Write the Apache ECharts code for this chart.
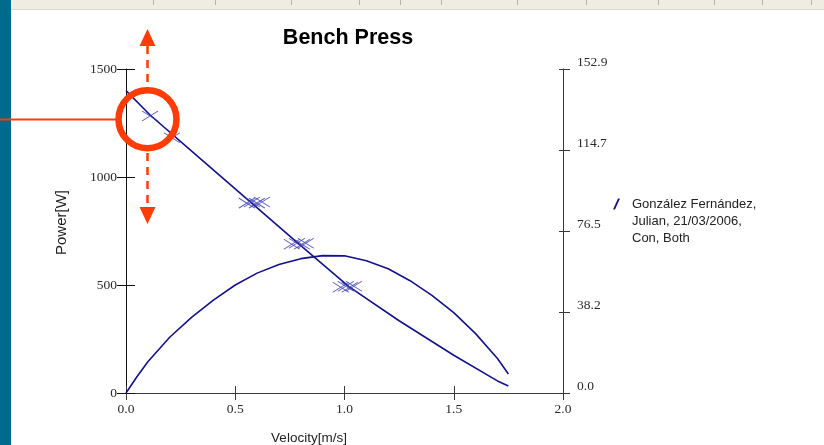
<!DOCTYPE html>
<html>
<head>
<meta charset="utf-8">
<script src="https://cdn.jsdelivr.net/npm/echarts@6/dist/echarts.min.js"></script>
<style>
html,body{margin:0;padding:0;background:#fff;}
#chart{width:824px;height:445px;}
</style>
</head>
<body>
<div id="chart"></div>
<script>
// ---- data ----
const chartTitle = 'Bench Press';
const seriesName = 'González Fernández,\nJulian, 21/03/2006,\nCon, Both';
const xTickLabels = ['0.0', '0.5', '1.0', '1.5', '2.0'];
const leftTickLabels = ['0', '500', '1000', '1500'];
const rightTickLabels = ['0.0', '38.2', '76.5', '114.7', '152.9'];

// power curve (W) vs velocity (m/s) - left axis
const powerVelocity = [0, 0.05, 0.1, 0.2, 0.3, 0.4, 0.5, 0.6, 0.7, 0.8, 0.9, 1.0, 1.1, 1.2, 1.3, 1.4, 1.5, 1.6, 1.7, 1.75];
const powerWatts    = [0, 75, 145, 258, 350, 430, 500, 555, 595, 622, 636, 635, 612, 575, 520, 452, 372, 275, 160, 88];

// force line (kg) vs velocity - right axis
const forceVelocity = [0, 0.11, 0.34, 0.57, 0.8, 1.02, 1.25, 1.5, 1.7, 1.75];
const forceKg       = [142.7, 131.2, 110.6, 90.1, 69.5, 50.2, 34.1, 17.8, 5.7, 3.3];

// measured repetitions (kg) - right axis
const repVelocity = [0.11, 0.21, 0.553, 0.576, 0.599, 0.622, 0.759, 0.782, 0.805, 0.823, 0.983, 1.006, 1.024, 1.043];
const repKg       = [130.7, 120.5, 89.6, 90.1, 89.6, 90.1, 70.2, 70.7, 70.2, 70.7, 49.9, 50.4, 49.9, 50.4];

const zip = (a, b) => a.map((v, i) => [v, b[i]]);

const navy = '#12128a';
const markerBlue = '#3a3ab2';
const red = '#ff3c06';
const tickFont = { fontFamily: 'Liberation Serif', fontSize: 13.5, color: '#2a2a2a' };
const axisColor = '#3a3a3a';

const chart = echarts.init(document.getElementById('chart'), null, { renderer: 'canvas' });

const topSeparators = [153, 215, 291, 359, 400, 441, 517, 586, 658, 714, 762, 811];

const graphics = [
  { type: 'rect', z: 100, shape: { x: 0, y: 0, width: 11, height: 445 }, style: { fill: '#006a8c' } },
  { type: 'rect', z: 100, shape: { x: 11, y: 0, width: 813, height: 9 }, style: { fill: '#efede2' } },
  { type: 'line', z: 100, shape: { x1: 11, y1: 9.5, x2: 824, y2: 9.5 }, style: { stroke: '#dcd9cc', lineWidth: 1 } }
].concat(topSeparators.map(x => ({
  type: 'line', z: 101, shape: { x1: x + 0.5, y1: 0, x2: x + 0.5, y2: 5 }, style: { stroke: '#b8b5a8', lineWidth: 1 }
}))).concat([
  // annotation overlay
  { type: 'line', z: 120, shape: { x1: 0, y1: 119.5, x2: 118, y2: 119.5 }, style: { stroke: red, lineWidth: 2 } },
  { type: 'circle', z: 120, shape: { cx: 147.5, cy: 119.3, r: 29 }, style: { fill: 'none', stroke: red, lineWidth: 6.5 } },
  { type: 'line', z: 120, shape: { x1: 147.5, y1: 46, x2: 147.5, y2: 86 }, style: { stroke: red, lineWidth: 2.5, lineDash: [8, 6] } },
  { type: 'line', z: 120, shape: { x1: 147.5, y1: 153, x2: 147.5, y2: 207 }, style: { stroke: red, lineWidth: 2.5, lineDash: [8, 6] } },
  { type: 'polygon', z: 120, shape: { points: [[147.5, 29], [139.5, 46], [155.5, 46]] }, style: { fill: red } },
  { type: 'polygon', z: 120, shape: { points: [[139.5, 207], [155.5, 207], [147.5, 224]] }, style: { fill: red } }
]);

const option = {
  animation: false,
  backgroundColor: '#ffffff',
  title: {
    text: chartTitle,
    left: 343, top: 22, textAlign: 'center',
    textStyle: { fontFamily: 'Liberation Sans', fontSize: 21.5, fontWeight: 'bold', color: '#000' }
  },
  legend: {
    data: [seriesName],
    left: 613, top: 195.5, padding: 0,
    itemWidth: 7, itemHeight: 45,
    icon: 'path://M0,11L5,0L7,0L2,11ZM0,45L7,45',
    itemStyle: { color: navy },
    textStyle: { fontFamily: 'Liberation Sans', fontSize: 13, lineHeight: 17, color: '#222', padding: [0, 0, 0, 7] }
  },
  grid: { left: 126, right: 261, top: 69, bottom: 52, containLabel: false, outerBoundsMode: 'none' },
  xAxis: [
    {
      type: 'value', min: 0, max: 2, interval: 0.5, position: 'bottom',
      name: 'Velocity[m/s]', nameLocation: 'middle', nameGap: 38,
      nameTextStyle: { fontFamily: 'Liberation Sans', fontSize: 13.5, color: '#222', padding: [0, 71, 0, 0] },
      axisLine: { show: true, lineStyle: { color: axisColor, width: 1 } },
      axisTick: { show: true, inside: false, length: 7, lineStyle: { color: axisColor } },
      axisLabel: Object.assign({ margin: 9, formatter: v => xTickLabels[Math.round(v / 0.5)] }, tickFont),
      splitLine: { show: false }
    },
    {
      type: 'value', min: 0, max: 2, interval: 0.5, position: 'bottom', offset: 0,
      axisLine: { show: false },
      axisTick: { show: true, inside: true, length: 7, lineStyle: { color: axisColor } },
      axisLabel: { show: false }, splitLine: { show: false }
    }
  ],
  yAxis: [
    {
      type: 'value', min: 0, max: 1500, interval: 500, position: 'left',
      name: 'Power[W]', nameLocation: 'middle', nameGap: 57, nameRotate: 90,
      nameTextStyle: { fontFamily: 'Liberation Sans', fontSize: 15, color: '#222', padding: [0, 0, 0, 17] },
      axisLine: { show: true, lineStyle: { color: '#111', width: 1 } },
      axisTick: { show: true, inside: false, length: 9, lineStyle: { color: '#111' } },
      axisLabel: Object.assign({ margin: 9, formatter: v => leftTickLabels[Math.round(v / 500)] }, tickFont),
      splitLine: { show: false }
    },
    {
      type: 'value', min: 0, max: 1500, interval: 500, position: 'left', offset: 0,
      axisLine: { show: false },
      axisTick: { show: true, inside: true, length: 9, lineStyle: { color: '#111' } },
      axisLabel: { show: false }, splitLine: { show: false }
    },
    {
      type: 'value', min: 0, max: 152.9, interval: 38.225, position: 'right', offset: 0,
      axisLine: { show: true, lineStyle: { color: axisColor, width: 1 } },
      axisTick: { show: true, inside: false, length: 7, lineStyle: { color: axisColor } },
      axisLabel: Object.assign({
        margin: 14, verticalAlign: 'bottom', lineHeight: 14,
        formatter: v => rightTickLabels[Math.round(v / 38.225)] || ''
      }, tickFont),
      splitLine: { show: false }
    },
    {
      type: 'value', min: 0, max: 152.9, interval: 38.225, position: 'right', offset: 0,
      axisLine: { show: false },
      axisTick: { show: true, inside: true, length: 4, lineStyle: { color: axisColor } },
      axisLabel: { show: false }, splitLine: { show: false }
    }
  ],
  series: [
    {
      name: seriesName, type: 'line', xAxisIndex: 0, yAxisIndex: 0,
      data: zip(powerVelocity, powerWatts),
      showSymbol: false, symbol: 'none', smooth: false,
      lineStyle: { color: navy, width: 1.6 }, itemStyle: { color: navy }, z: 3
    },
    {
      name: 'Force', type: 'line', xAxisIndex: 0, yAxisIndex: 2,
      data: zip(forceVelocity, forceKg),
      showSymbol: false, symbol: 'none', smooth: false,
      lineStyle: { color: navy, width: 1.6 }, itemStyle: { color: navy }, z: 3
    },
    {
      name: 'Repetitions', type: 'scatter', xAxisIndex: 0, yAxisIndex: 2,
      data: zip(repVelocity, repKg),
      symbol: 'path://M0,0L16,10M16,0L0,10', symbolSize: [16, 10],
      itemStyle: { color: 'rgba(0,0,0,0)', borderColor: markerBlue, borderWidth: 1 },
      z: 4
    }
  ],
  graphic: graphics
};

chart.setOption(option);
</script>
</body>
</html>
